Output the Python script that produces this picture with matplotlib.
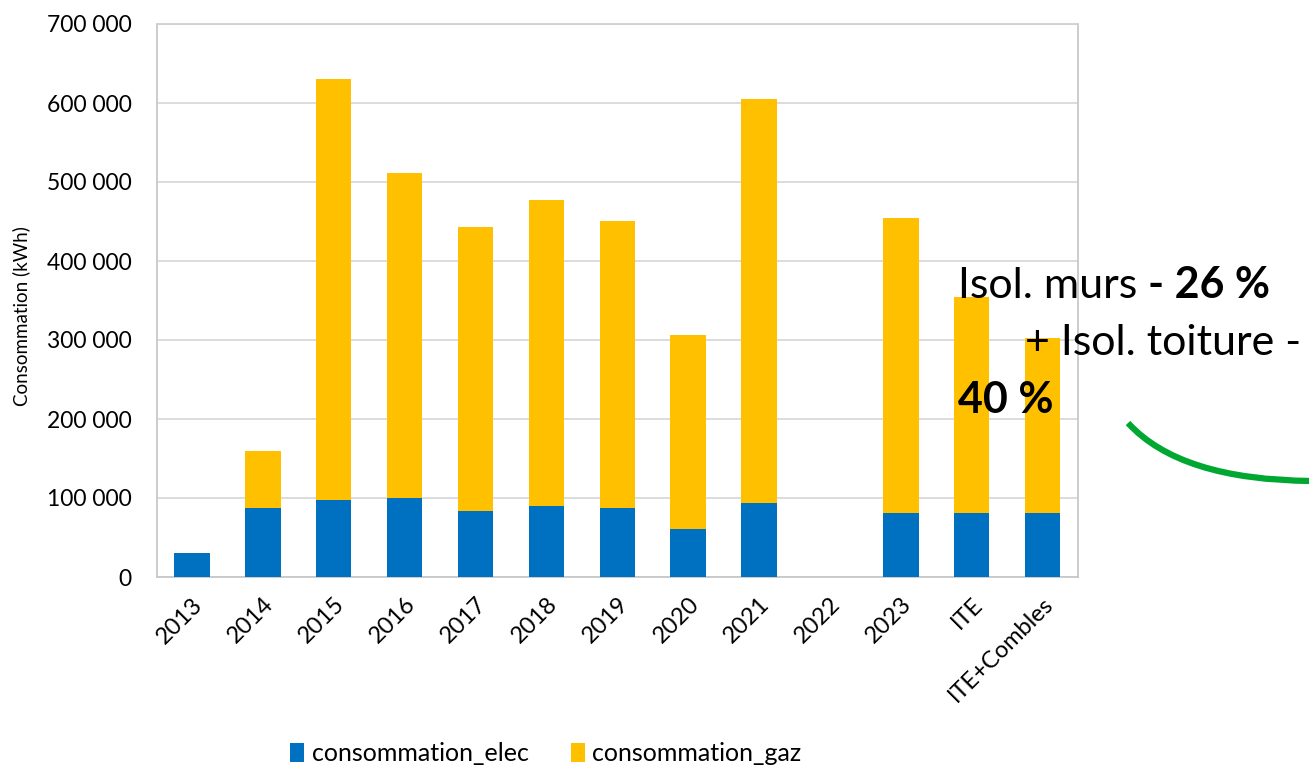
import matplotlib
matplotlib.use("Agg")
import matplotlib.pyplot as plt
from matplotlib.path import Path
from matplotlib.patches import PathPatch
from matplotlib.ticker import FuncFormatter, MultipleLocator

plt.rcParams['font.family'] = ['Lato', 'DejaVu Sans']

categories = ["2013", "2014", "2015", "2016", "2017", "2018", "2019", "2020",
              "2021", "2022", "2023", "ITE", "ITE+Combles"]
consommation_elec = [31000, 87000, 97500, 100000, 83000, 90000, 87500, 61000,
                     93500, 0, 81000, 81000, 81000]
consommation_gaz = [0, 72000, 532500, 411000, 360000, 387500, 363000, 245500,
                    511500, 0, 373000, 273000, 221000]

W, H = 1309, 769
fig = plt.figure(figsize=(W / 100, H / 100), dpi=100)
ax = fig.add_axes([156.5 / W, 1 - 577 / H, (1078 - 156.5) / W, (577 - 24) / H])

x = range(len(categories))
ax.bar(x, consommation_elec, width=0.5, color="#0070C0", label="consommation_elec", zorder=3)
ax.bar(x, consommation_gaz, width=0.5, bottom=consommation_elec, color="#FFC000",
       label="consommation_gaz", zorder=3)

ax.set_xlim(-0.5, len(categories) - 0.5)
ax.set_ylim(0, 700000)
ax.yaxis.set_major_locator(MultipleLocator(100000))
ax.yaxis.set_major_formatter(FuncFormatter(lambda v, p: f"{int(v):,}".replace(",", " ")))
ax.grid(axis="y", color="#D9D9D9", linewidth=1.3, zorder=0)
for s in ["left", "right", "bottom"]:
    ax.spines[s].set_color("#C8C8C8")
    ax.spines[s].set_linewidth(1.3)
ax.spines["top"].set_color("#D0D0D0")
ax.spines["top"].set_linewidth(1.3)
ax.tick_params(axis="y", length=0, labelsize=16.5, pad=18)
ax.set_xticks(list(x))
ax.set_xticklabels(categories, rotation=45, ha="right", rotation_mode="anchor", fontsize=17)
ax.tick_params(axis="x", length=0, pad=12)
ax.set_ylabel("Consommation (kWh)", fontsize=13.5)
ax.yaxis.set_label_coords(-0.137, 0.472)

leg = fig.legend(loc="lower center", bbox_to_anchor=(0.417, -0.024), ncol=2, frameon=False,
                 fontsize=18, handlelength=0.55, handleheight=0.8, handletextpad=0.3,
                 columnspacing=1.7)

# overlay for annotations in pixel coordinates
ov = fig.add_axes([0, 0, 1, 1], facecolor="none")
ov.set_xlim(0, W)
ov.set_ylim(H, 0)
ov.axis("off")

fs = 31
renderer = fig.canvas.get_renderer()
t1 = ov.text(958, 298, "Isol. murs ", fontsize=fs, va="baseline", ha="left")
bb = t1.get_window_extent(renderer)
disp = ov.transData.transform((958, 298))
ov.text(bb.x1, disp[1], "- 26 %", fontsize=fs, fontweight="bold", va="baseline", ha="left",
        transform=None)
ov.text(1025, 355, "+ Isol. toiture -", fontsize=fs, va="baseline", ha="left")
ov.text(958, 413, "40 %", fontsize=fs, fontweight="bold", va="baseline", ha="left")

path = Path([(1128, 423), (1180, 480), (1312, 481)], [Path.MOVETO, Path.CURVE3, Path.CURVE3])
ov.add_patch(PathPatch(path, facecolor="none", edgecolor="#00A832", linewidth=4.5))

fig.savefig("out.png", dpi=100)
